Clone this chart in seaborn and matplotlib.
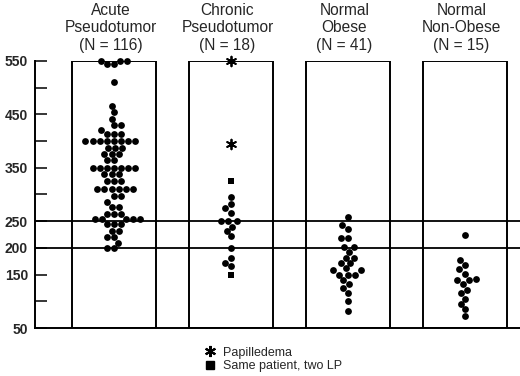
import numpy as np
import pandas as pd
import seaborn as sns
import matplotlib
matplotlib.use('Agg')
import matplotlib.pyplot as plt
from matplotlib.lines import Line2D
from matplotlib.patches import Rectangle

sns.set_style('white')
plt.rcParams['font.family'] = ['Liberation Sans', 'DejaVu Sans']

# group headers
groups = ['Acute\nPseudotumor\n(N = 116)', 'Chronic\nPseudotumor\n(N = 18)',
          'Normal\nObese\n(N = 41)', 'Normal\nNon-Obese\n(N = 15)']

# values (mm H2O)
acute = ([550] * 3 + [544] * 2 + [510] + [466, 454, 442] + [430, 430] + [420]
         + [413] * 3 + [400] * 8 + [387] * 3 + [376] * 3 + [364] * 2
         + [350] * 7 + [338] * 3 + [326] * 3 + [310] * 6 + [298] * 2 + [286]
         + [276] * 2 + [264] * 3 + [254] * 5 + [244] * 3 + [232] * 2 + [220] * 2
         + [210] + [200] * 2)
chronic_dots = [296, 283, 274, 266, 250, 250, 250, 240, 232, 222, 200, 182, 172, 166]
chronic_star = [550, 395]     # papilledema
chronic_square = [326, 150]   # same patient, two LP
obese = [257, 243, 236, 218, 218, 202, 202, 193, 182, 182, 172, 172, 162, 158, 158,
         150, 150, 150, 140, 132, 125, 116, 100, 82]
nonobese = [225, 177, 168, 160, 152, 142, 140, 140, 133, 122, 115, 105, 95, 85, 72]

ticks = [50, 100, 150, 200, 250, 300, 350, 400, 450, 500, 550]
tick_labels = ['50', '', '150', '200', '250', '', '350', '', '450', '', '550']

df = pd.DataFrame({
    'group': [groups[0]] * len(acute) + [groups[1]] * len(chronic_dots)
             + [groups[2]] * len(obese) + [groups[3]] * len(nonobese),
    'value': acute + chronic_dots + obese + nonobese,
})
df_star = pd.DataFrame({'group': [groups[1]] * len(chronic_star), 'value': chronic_star})
df_sq = pd.DataFrame({'group': [groups[1]] * len(chronic_square), 'value': chronic_square})

fig = plt.figure(figsize=(5.2, 3.76), dpi=100)
ax = fig.add_axes([35 / 520, 48 / 376, 485 / 520, 267 / 376])

sns.swarmplot(data=df, x='group', y='value', order=groups, color='black', size=4.9,
              linewidth=0, ax=ax, clip_on=False, zorder=3)
sns.stripplot(data=df_star, x='group', y='value', order=groups, jitter=False, color='black',
              marker=(6, 2, 0), size=7, linewidth=1.3, ax=ax, clip_on=False, zorder=4)
sns.stripplot(data=df_sq, x='group', y='value', order=groups, jitter=False, color='black',
              marker='s', size=4.5, linewidth=0, ax=ax, clip_on=False, zorder=4)

# boxes around each group
for i in range(len(groups)):
    ax.add_patch(Rectangle((i - 0.36, 50), 0.72, 500, fill=False, edgecolor='black',
                           linewidth=1.4, zorder=2))
    ax.annotate(groups[i], xy=(i - 0.03, 550), xytext=(0, 6), textcoords='offset points',
                ha='center', va='bottom', fontsize=11.2, linespacing=1.2)

ax.axhline(250, color='black', linewidth=1.3, zorder=1)
ax.axhline(200, color='black', linewidth=1.3, zorder=1)

ax.set_xlim(-0.675, 3.47)
ax.set_ylim(50, 550)
ax.set_yticks(ticks)
ax.set_yticklabels(tick_labels, fontweight='bold', fontsize=10)
ax.tick_params(axis='y', direction='in', length=8.5, width=1.3, pad=5, left=True)
ax.set_xticks([])
ax.set_xlabel('')
ax.set_ylabel('')
sns.despine(ax=ax, top=True, right=True)
ax.spines['left'].set_linewidth(1.4)
ax.spines['bottom'].set_linewidth(1.4)
ax.spines['left'].set_color('black')
ax.spines['bottom'].set_color('black')

handles = [Line2D([], [], color='black', marker=(6, 2, 0), markersize=8, markeredgewidth=1.5,
                  linestyle='none'),
           Line2D([], [], color='black', marker='s', markersize=6, linestyle='none')]
fig.legend(handles, ['Papilledema', 'Same patient, two LP'], loc='upper left',
           bbox_to_anchor=(0.38, 0.095), frameon=False, fontsize=9, handlelength=1,
           handletextpad=0.5, labelspacing=0.15, borderpad=0)

plt.savefig('out.png', dpi=100)
